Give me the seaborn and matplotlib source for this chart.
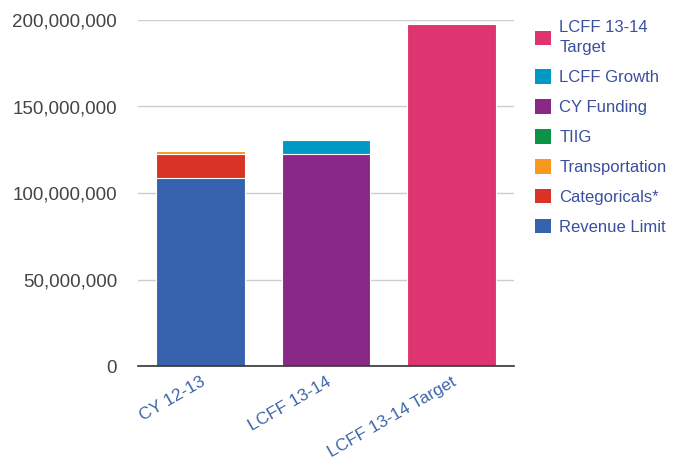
import matplotlib
matplotlib.use("Agg")
import matplotlib.pyplot as plt
from matplotlib.patches import Patch
from matplotlib.ticker import FuncFormatter
import seaborn as sns
import pandas as pd
import numpy as np

categories = ["CY 12-13", "LCFF 13-14", "LCFF 13-14 Target"]
components = ["Revenue Limit", "Categoricals*", "Transportation", "TIIG",
              "CY Funding", "LCFF Growth", "LCFF 13-14\nTarget"]
revenue_limit = [108.7e6, 0, 0]
categoricals = [14.0e6, 0, 0]
transportation = [1.3e6, 0, 0]
tiig = [0.4e6, 0, 0]
cy_funding = [0, 122.5e6, 0]
lcff_growth = [0, 8.3e6, 0]
lcff_target = [0, 0, 197.7e6]
colors = ["#3662ae", "#d93326", "#f7981f", "#0b9348", "#8a2887", "#0099c6", "#de3570"]

series = [revenue_limit, categoricals, transportation, tiig, cy_funding, lcff_growth, lcff_target]

sns.set_theme(style="white")
plt.rcParams['font.family'] = ['Liberation Sans', 'DejaVu Sans']

fig = plt.figure(figsize=(6.75, 4.65), dpi=100)
ax = fig.add_axes([138/675, 1 - 366/465, (514 - 138)/675, (366 - 20)/465])

cum = np.cumsum(np.array(series), axis=0)
for i in range(len(series) - 1, -1, -1):
    df = pd.DataFrame({"cat": categories, "val": cum[i]})
    sns.barplot(data=df, x="cat", y="val", color=colors[i], width=0.71,
                edgecolor="white", linewidth=0.8, saturation=1, ax=ax, zorder=2)

ax.set_ylim(0, 200e6)
ax.set_xlim(-0.5, 2.5)
ax.set_yticks([0, 50e6, 100e6, 150e6, 200e6])
ax.yaxis.set_major_formatter(FuncFormatter(lambda v, p: f"{int(v):,}"))
ax.grid(axis="y", color="#cccccc", linewidth=1, zorder=0)
ax.set_axisbelow(True)
for s in ["top", "right", "left"]:
    ax.spines[s].set_visible(False)
ax.spines["bottom"].set_color("#333333")
ax.spines["bottom"].set_linewidth(1.2)
ax.set_xlabel("")
ax.set_ylabel("")
ax.tick_params(axis="y", length=0, pad=15, labelsize=13.5, labelcolor="#444444")
ax.tick_params(axis="x", length=0, pad=6, labelsize=12.5, labelcolor="#3d66a8")
for lbl in ax.get_xticklabels():
    lbl.set_rotation(30)
    lbl.set_ha("right")
    lbl.set_rotation_mode("anchor")

handles = [Patch(facecolor=colors[i], edgecolor="none") for i in range(len(components) - 1, -1, -1)]
labels = [components[i] for i in range(len(components) - 1, -1, -1)]
leg = fig.legend(handles, labels, loc="upper left", bbox_to_anchor=(520/675, 1 - 5/465),
                 frameon=False, handlelength=0.95, handleheight=0.95, handletextpad=0.5,
                 labelspacing=0.84, fontsize=12, labelcolor="#3a4fa0")
leg.get_texts()[0].set_linespacing(1.45)

fig.savefig("out.png", dpi=100)
